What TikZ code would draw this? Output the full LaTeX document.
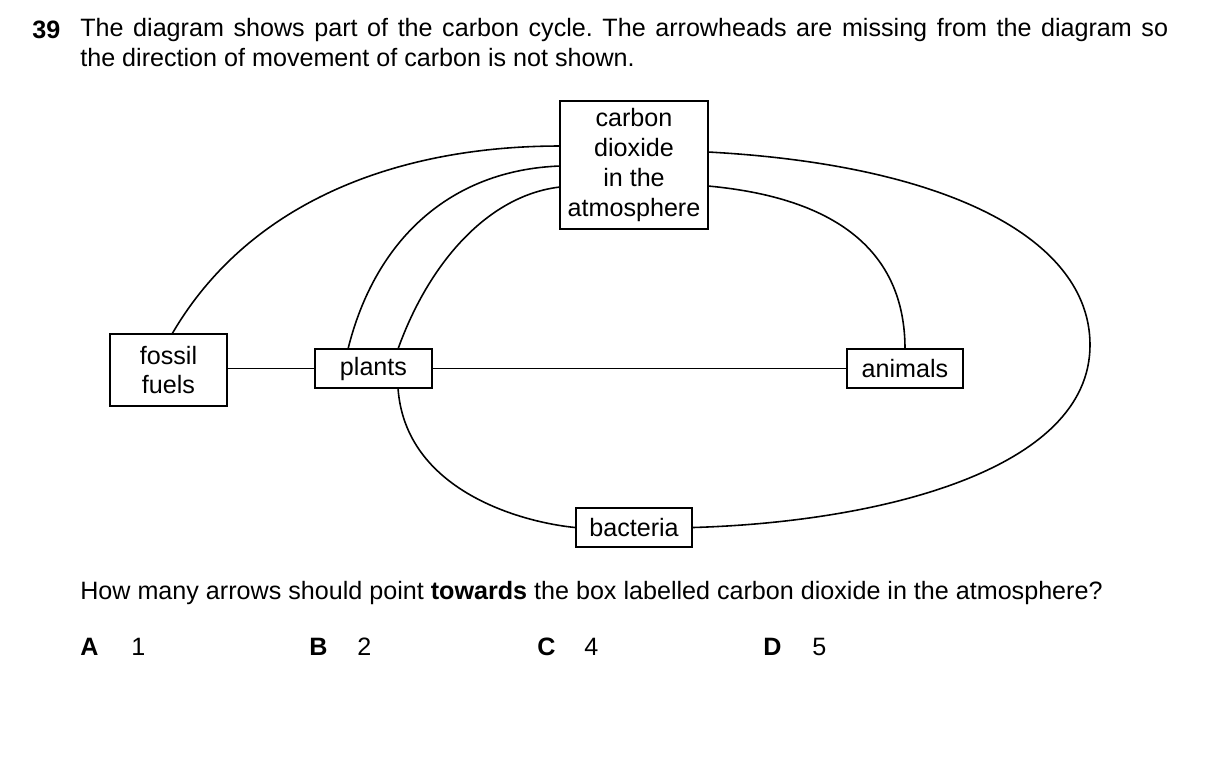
\documentclass[tikz,border=0pt]{standalone}
\usepackage{fontspec}
\setmainfont{Liberation Sans}
\begin{document}
\frenchspacing
\begin{tikzpicture}[x=0.02cm,y=-0.02cm,
  box/.style={draw,line width=1pt,inner sep=0pt,align=center,font=\fontsize{14.3}{17}\selectfont},
  txt/.style={anchor=west,inner sep=0pt,font=\fontsize{14.3}{17}\selectfont},
  ln/.style={line width=0.9pt}]
\useasboundingbox (0,0) rectangle (1209,769);
\node[txt] (num) at (32,30) {\textbf{39}};
\node[txt] (l1) at (80,30) {\hbox to 21.76cm{The diagram shows part of the carbon cycle. The arrowheads are missing from the diagram so}};
\node[txt] (l2) at (80,58) {the direction of movement of carbon is not shown.};
\node[box,minimum width=2.96cm,minimum height=2.56cm] (co2) at (634,165) {carbon\\dioxide\\in the\\atmosphere};
\node[box,minimum width=2.34cm,minimum height=1.44cm] (ff) at (168.5,370) {fossil\\fuels};
\node[box,minimum width=2.34cm,minimum height=0.78cm] (pl) at (373.5,368.5) {plants};
\node[box,minimum width=2.32cm,minimum height=0.78cm] (an) at (905,368.5) {animals};
\node[box,minimum width=2.32cm,minimum height=0.78cm] (ba) at (634,527.5) {bacteria};
\coordinate (c1) at (560,146);
\coordinate (c2) at (560,166);
\coordinate (c3) at (560,187);
\coordinate (c4) at (708,186);
\coordinate (c5) at (708,152);
\coordinate (e) at (1090,345);
\draw[ln] (172,334) .. controls (250,200) and (400,146) .. (c1);
\draw[ln] (348,349) .. controls (375,240) and (450,170) .. (c2);
\draw[ln] (398,349) .. controls (430,260) and (490,195) .. (c3);
\draw[ln] (c4) .. controls (860,200) and (905,270) .. (905,349);
\draw[ln] (c5) .. controls (950,165) and (1090,240) .. (e) .. controls (1090,470) and (880,522) .. (ba.east);
\draw[ln] (398,388) .. controls (405,490) and (520,522) .. (ba.west);
\draw[ln] (ff.east|-pl.west) -- (pl.west);
\draw[ln] (pl.east) -- (an.west);
\node[txt] (q) at (80,593) {How many arrows should point \textbf{towards} the box labelled carbon dioxide in the atmosphere?};
\node[txt] (A) at (80,647) {\textbf{A}};\node[txt] (a1) at (131,647) {1};
\node[txt] (B) at (309,647) {\textbf{B}};\node[txt] (b1) at (357,647) {2};
\node[txt] (C) at (537,647) {\textbf{C}};\node[txt] (c1t) at (584,647) {4};
\node[txt] (D) at (763,647) {\textbf{D}};\node[txt] (d1) at (812,647) {5};
\end{tikzpicture}
\end{document}
